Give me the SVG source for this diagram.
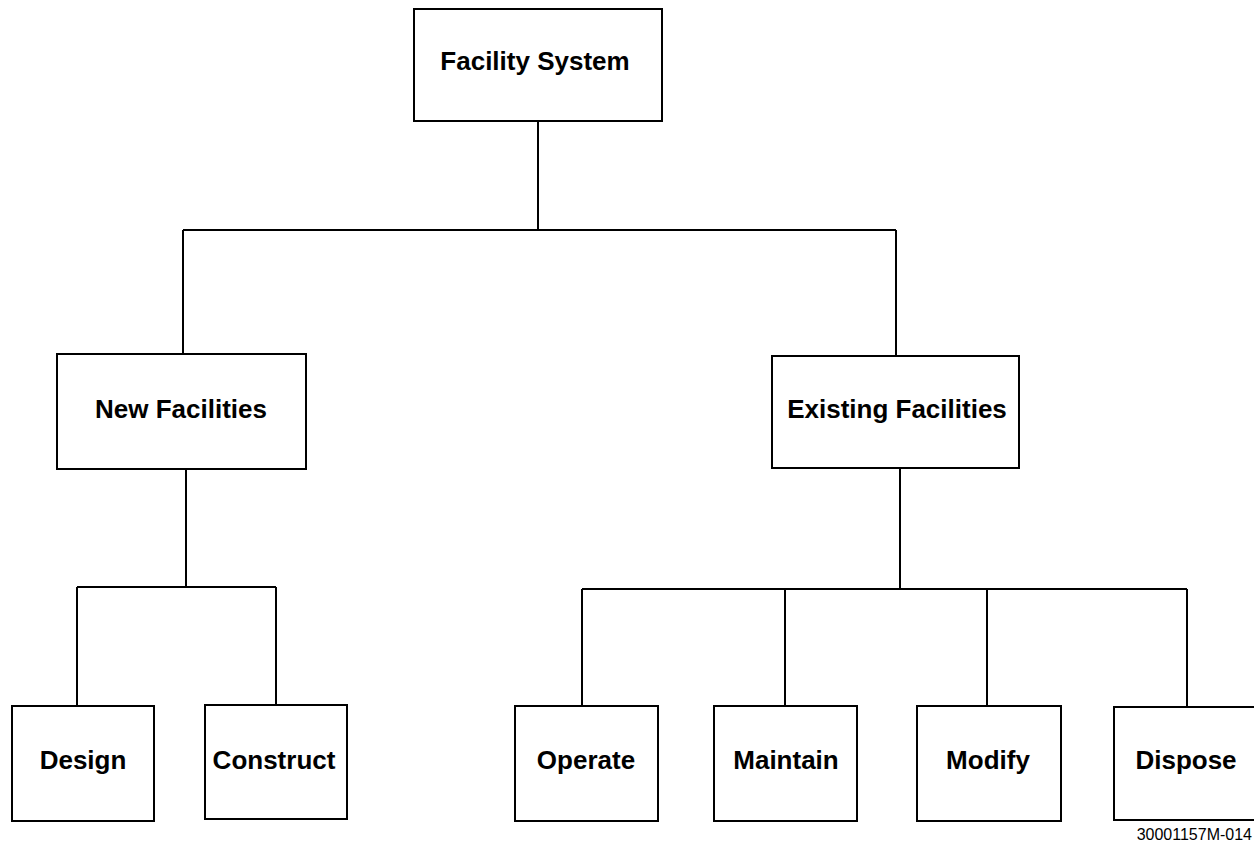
<svg xmlns="http://www.w3.org/2000/svg" width="1254" height="846" viewBox="0 0 1254 846">
  <style>
    .box { fill: #ffffff; stroke: #000000; stroke-width: 2; }
    .lbl { font-family: "Liberation Sans", Arial, sans-serif; font-weight: bold; font-size: 26px; fill: #000000; text-anchor: middle; }
    .wire { fill: none; stroke: #000000; stroke-width: 2; }
    .ref { font-family: "Liberation Sans", Arial, sans-serif; font-size: 16px; fill: #000000; text-anchor: end; }
  </style>
  <rect width="1254" height="846" fill="#ffffff"/>

  <!-- tree connectors -->
  <g id="connectors" class="wire">
    <path d="M538,121 V230 M183,230 H896 M183,230 V354 M896,230 V356"/>
    <path d="M186,469 V587 M77,587 H276 M77,587 V706 M276,587 V705"/>
    <path d="M900,468 V589 M582,589 H1187 M582,589 V706 M785,589 V706 M987,589 V706 M1187,589 V707"/>
  </g>

  <g id="facility-system">
    <rect class="box" x="414" y="9" width="248" height="112"/>
    <text class="lbl" x="535" y="70">Facility System</text>
  </g>
  <g id="new-facilities">
    <rect class="box" x="57" y="354" width="249" height="115"/>
    <text class="lbl" x="181" y="418">New Facilities</text>
  </g>
  <g id="existing-facilities">
    <rect class="box" x="772" y="356" width="247" height="112"/>
    <text class="lbl" x="897" y="418">Existing Facilities</text>
  </g>
  <g id="design">
    <rect class="box" x="12" y="706" width="142" height="115"/>
    <text class="lbl" x="83" y="769">Design</text>
  </g>
  <g id="construct">
    <rect class="box" x="205" y="705" width="142" height="114"/>
    <text class="lbl" x="274" y="769">Construct</text>
  </g>
  <g id="operate">
    <rect class="box" x="515" y="706" width="143" height="115"/>
    <text class="lbl" x="586" y="769">Operate</text>
  </g>
  <g id="maintain">
    <rect class="box" x="714" y="706" width="143" height="115"/>
    <text class="lbl" x="786" y="769">Maintain</text>
  </g>
  <g id="modify">
    <rect class="box" x="917" y="706" width="144" height="115"/>
    <text class="lbl" x="988" y="769">Modify</text>
  </g>
  <g id="dispose">
    <rect class="box" x="1114" y="707" width="144" height="113"/>
    <text class="lbl" x="1186" y="769">Dispose</text>
  </g>

  <text class="ref" x="1252" y="840">30001157M-014</text>
</svg>
